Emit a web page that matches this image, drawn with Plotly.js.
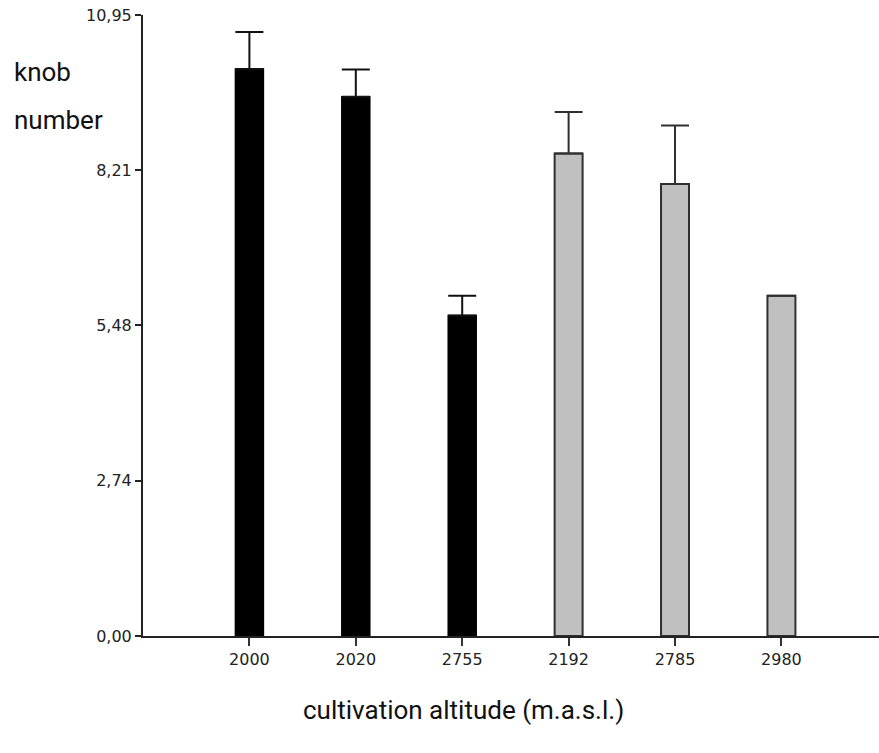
<!DOCTYPE html>
<html>
<head>
<meta charset="utf-8">
<script src="https://cdn.plot.ly/plotly-3.0.1.min.js"></script>
<style>
  html, body { margin: 0; padding: 0; background: #ffffff; }
  #chart { width: 879px; height: 753px; }
</style>
</head>
<body>
<div id="chart"></div>
<script>
// Categories (cultivation altitude, m.a.s.l.)
const categories = ["2000", "2020", "2755", "2192", "2785", "2980"];
const groupA = ["2000", "2020", "2755"];
const groupB = ["2192", "2785", "2980"];
// Mean knob number per group
const valuesA = [10.0, 9.51, 5.65];
const valuesB = [8.51, 7.97, 6.0];
// Standard errors (upper)
const errorsA = [0.65, 0.48, 0.35];
const errorsB = [0.73, 1.03, null];
// Y tick values and labels
const yTickVals = [0, 2.74, 5.48, 8.21, 10.95];
const yTickText = ["0,00", "2,74", "5,48", "8,21", "10,95"];

const titleFont = "Roboto, 'Liberation Sans', sans-serif";
const tickFont = { family: "'DejaVu Sans', Verdana, sans-serif", size: 16, color: "#222222" };

const traces = [
  {
    type: "bar",
    x: groupA,
    y: valuesA,
    width: 0.263,
    marker: { color: "#000000", line: { color: "#000000", width: 1.5 } },
    error_y: { type: "data", array: errorsA, symmetric: false, arrayminus: [0, 0, 0],
               color: "#111111", thickness: 2, width: 14 },
    hoverinfo: "x+y",
    showlegend: false
  },
  {
    type: "bar",
    x: groupB,
    y: valuesB,
    width: 0.263,
    marker: { color: "#c0c0c0", line: { color: "#303030", width: 2 } },
    error_y: { type: "data", array: errorsB, symmetric: false, arrayminus: [0, 0, 0],
               color: "#303030", thickness: 2, width: 14 },
    hoverinfo: "x+y",
    showlegend: false
  }
];

const layout = {
  width: 879,
  height: 753,
  margin: { l: 143, r: 0, t: 15, b: 117 },
  paper_bgcolor: "#ffffff",
  plot_bgcolor: "#ffffff",
  barmode: "overlay",
  xaxis: {
    type: "category",
    categoryorder: "array",
    categoryarray: categories,
    range: [-1, 5.917],
    showline: true,
    linecolor: "#222222",
    linewidth: 2,
    showgrid: false,
    zeroline: false,
    ticks: "outside",
    ticklen: 8,
    tickwidth: 2,
    tickcolor: "#333333",
    tickfont: tickFont,
    fixedrange: true
  },
  yaxis: {
    range: [0, 10.95],
    showline: true,
    linecolor: "#222222",
    linewidth: 2,
    showgrid: false,
    zeroline: false,
    tickmode: "array",
    tickvals: yTickVals,
    ticktext: yTickText,
    ticks: "outside",
    ticklen: 6,
    tickwidth: 2,
    tickcolor: "#222222",
    tickfont: tickFont,
    fixedrange: true
  },
  annotations: [
    { text: "knob", xref: "paper", yref: "paper", x: -0.178, y: 0.908,
      xanchor: "left", yanchor: "middle", showarrow: false,
      font: { family: titleFont, size: 26, color: "#111111" } },
    { text: "number", xref: "paper", yref: "paper", x: -0.178, y: 0.831,
      xanchor: "left", yanchor: "middle", showarrow: false,
      font: { family: titleFont, size: 26, color: "#111111" } },
    { text: "cultivation altitude (m.a.s.l.)", xref: "paper", yref: "paper", x: 0.435, y: -0.119,
      xanchor: "center", yanchor: "middle", showarrow: false,
      font: { family: titleFont, size: 26, color: "#111111" } }
  ]
};

Plotly.newPlot("chart", traces, layout, { displayModeBar: false, staticPlot: true });
</script>
</body>
</html>
